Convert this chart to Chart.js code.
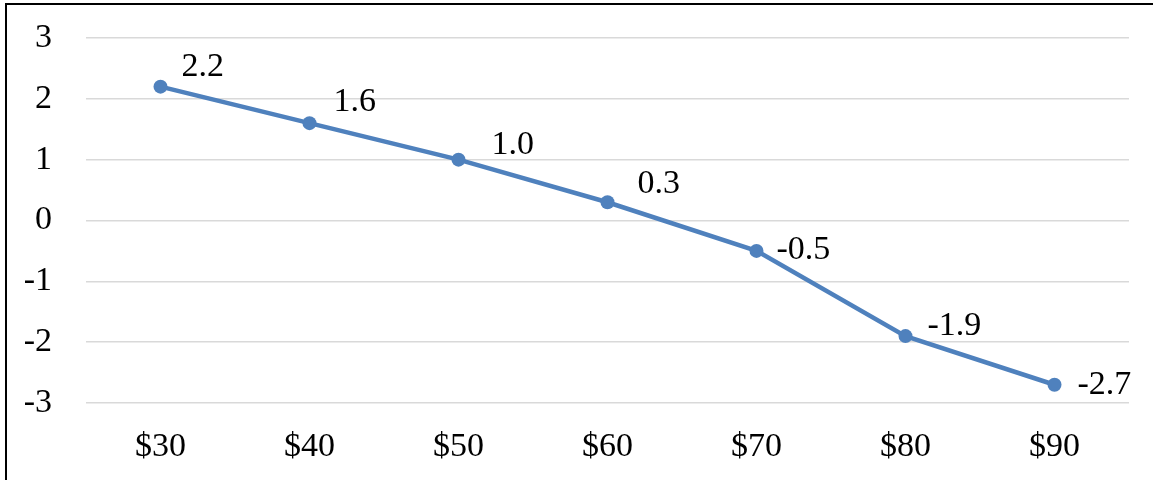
<!DOCTYPE html>
<html>
<head>
<meta charset="utf-8">
<script src="https://cdn.jsdelivr.net/npm/chart.js@4/dist/chart.umd.min.js"></script>
<style>
  html, body { margin: 0; padding: 0; background: #fff; }
  #wrap { position: relative; width: 1153px; height: 480px; overflow: hidden; }
  #frame { position: absolute; left: 5px; top: 3px; width: 1160px; height: 490px;
           border-left: 2px solid #000; border-top: 2px solid #000; pointer-events: none; }
  canvas { position: absolute; left: 0; top: 0; }
</style>
</head>
<body>
<div id="wrap">
  <canvas id="chart" width="1153" height="480"></canvas>
  <div id="frame"></div>
</div>
<script>
// Price points and the change measured at each
const categories = ['$30', '$40', '$50', '$60', '$70', '$80', '$90'];
const values = [2.2, 1.6, 1.0, 0.3, -0.5, -1.9, -2.7];
const yTicks = [-3, -2, -1, 0, 1, 2, 3];

// Nudges for each value label, relative to its point
const labelDx = [21, 24, 33, 30, 20, 22, 23];
const labelDy = [-20, -21, -15, -18, -1, -10, 0];

const serif = '"Liberation Serif", "Times New Roman", serif';
const lineColor = '#4F81BD';

const valueLabels = {
  id: 'valueLabels',
  afterDatasetsDraw(chart) {
    const ctx = chart.ctx;
    const meta = chart.getDatasetMeta(0);
    ctx.save();
    ctx.font = '34px ' + serif;
    ctx.fillStyle = '#000';
    ctx.textAlign = 'left';
    ctx.textBaseline = 'middle';
    meta.data.forEach((pt, i) => {
      ctx.fillText(values[i].toFixed(1), pt.x + labelDx[i], pt.y + labelDy[i]);
    });
    ctx.restore();
  }
};

new Chart(document.getElementById('chart'), {
  type: 'line',
  data: {
    labels: categories,
    datasets: [{
      data: values,
      borderColor: lineColor,
      backgroundColor: lineColor,
      borderWidth: 4.5,
      pointRadius: 7,
      pointHoverRadius: 7,
      pointBackgroundColor: lineColor,
      pointBorderWidth: 0,
      tension: 0,
      fill: false
    }]
  },
  options: {
    responsive: false,
    animation: false,
    events: [],
    layout: { padding: { top: 38, right: 24, bottom: 0, left: 0 } },
    plugins: { legend: { display: false }, tooltip: { enabled: false } },
    scales: {
      x: {
        offset: true,
        grid: { display: false, drawTicks: false },
        border: { display: false },
        ticks: { color: '#000', font: { family: serif, size: 34 }, padding: 24 },
        afterFit(scale) { scale.height = 77; }
      },
      y: {
        min: -3,
        max: 3,
        afterBuildTicks(scale) { scale.ticks = yTicks.map(v => ({ value: v })); },
        grid: { color: '#d9d9d9', lineWidth: 1.5, drawTicks: false },
        border: { display: false },
        ticks: { color: '#000', font: { family: serif, size: 34 }, padding: 34 },
        afterFit(scale) {
          scale.width = 86;
          scale.paddingTop = 0;
          scale.paddingBottom = 0;
        }
      }
    }
  },
  plugins: [valueLabels]
});
</script>
</body>
</html>
